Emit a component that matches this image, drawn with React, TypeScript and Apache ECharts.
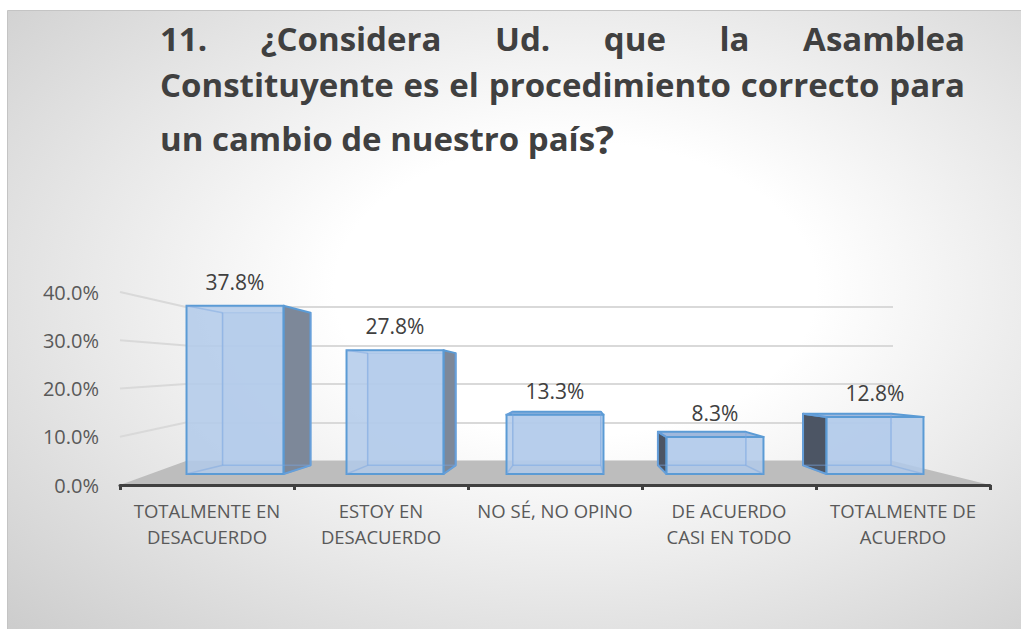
import React, { useEffect, useRef } from "react";
import * as echarts from "echarts";

const categories = [
  "TOTALMENTE EN\nDESACUERDO",
  "ESTOY EN\nDESACUERDO",
  "NO SÉ, NO OPINO",
  "DE ACUERDO\nCASI EN TODO",
  "TOTALMENTE DE\nACUERDO",
];
const values = [37.8, 27.8, 13.3, 8.3, 12.8];
const yTicks = [0, 10, 20, 30, 40];
const titleLine1 = ["11.", "¿Considera", "Ud.", "que", "la", "Asamblea"];
const titleLine2 = ["Constituyente", "es", "el", "procedimiento", "correcto", "para"];
const titleLine3 = "un cambio de nuestro país";

const W = 1021;
const H = 629;
const FONT = "'Open Sans', 'Noto Sans', sans-serif";
const G0 = { left: 120, right: 31, top: 292, bottom: 144 }; // front axis + labels
const G1 = { left: 186, right: 128, top: 307, bottom: 168 }; // back wall gridlines
const G2 = { left: 155, right: 66, top: 296, bottom: 155 }; // bar front faces
const VP = [574, 381];
const DEPTH = 0.907;
const TITLE_LEFT = 160;
const TITLE_RIGHT = 965;
const TITLE_SIZE = 33;

function renderBar(params: any, api: any) {
  const i = api.value(0);
  const v = api.value(1);
  const base = api.coord([i, 0]);
  const top = api.coord([i, v]);
  const w = api.size([1, 0])[0] * 0.606;
  const x0 = base[0] - w / 2;
  const x1 = base[0] + w / 2;
  const y0 = top[1];
  const y1 = base[1];
  const b = (p: number[]) => [VP[0] + (p[0] - VP[0]) * DEPTH, VP[1] + (p[1] - VP[1]) * DEPTH];
  const FTL = [x0, y0], FTR = [x1, y0], FBR = [x1, y1], FBL = [x0, y1];
  const BTL = b(FTL), BTR = b(FTR), BBR = b(FBR), BBL = b(FBL);
  const children: any[] = [];
  children.push({
    type: "polygon",
    shape: { points: [BTL, BTR, BBR, BBL] },
    style: { fill: "rgba(190,210,238,0.6)", stroke: "#8fb3e3", lineWidth: 1.5 },
  });
  if (x1 < VP[0]) {
    children.push({
      type: "polygon",
      shape: { points: [FTR, BTR, BBR, FBR] },
      style: { fill: "#7d8899", stroke: "#5b9bd5", lineWidth: 2, lineJoin: "round" },
    });
  } else if (x0 > VP[0]) {
    children.push({
      type: "polygon",
      shape: { points: [FTL, BTL, BBL, FBL] },
      style: { fill: "#4c5564", stroke: "#5b9bd5", lineWidth: 2, lineJoin: "round" },
    });
  }
  if (y0 > VP[1]) {
    children.push({
      type: "polygon",
      shape: { points: [FTL, FTR, BTR, BTL] },
      style: { fill: "#9fb8dc", stroke: "#5b9bd5", lineWidth: 2, lineJoin: "round" },
    });
  }
  children.push({
    type: "rect",
    shape: { x: x0, y: y0, width: x1 - x0, height: y1 - y0 },
    style: { fill: "rgba(178,202,234,0.85)", stroke: "#5b9bd5", lineWidth: 2 },
  });
  const edge = (p: number[], q: number[]) => ({
    type: "line",
    shape: { x1: p[0], y1: p[1], x2: q[0], y2: q[1] },
    style: { stroke: "rgba(120,165,225,0.45)", lineWidth: 1.5 },
  });
  children.push(edge(FTL, BTL), edge(FBL, BBL), edge(FBR, BBR), edge(BTL, BBL), edge(BBL, BBR), edge(BBR, BTR));
  children.push({
    type: "text",
    x: base[0],
    y: y0 - 24,
    style: {
      text: v.toFixed(1) + "%",
      fill: "#404040",
      fontSize: 21,
      fontFamily: FONT,
      align: "center",
      verticalAlign: "middle",
    },
  });
  return { type: "group", children };
}

function justifyWords(words: string[], y: number, ctx: CanvasRenderingContext2D | null) {
  const widths = words.map((w) => (ctx ? ctx.measureText(w).width : w.length * TITLE_SIZE * 0.55));
  const total = widths.reduce((a, c) => a + c, 0);
  const gap = (TITLE_RIGHT - TITLE_LEFT - total) / (words.length - 1);
  const out: any[] = [];
  let x = TITLE_LEFT;
  words.forEach((w, i) => {
    out.push({
      type: "text",
      z: 10,
      x,
      y,
      style: {
        text: w,
        fill: "#404040",
        fontSize: TITLE_SIZE,
        fontWeight: "bold",
        fontFamily: FONT,
        align: "left",
        verticalAlign: "middle",
      },
    });
    x += widths[i] + gap;
  });
  return out;
}

export default function App() {
  const ref = useRef<HTMLDivElement>(null);
  useEffect(() => {
    if (!ref.current) return;
    const chart = echarts.init(ref.current, null, { renderer: "svg" });
    const hiddenAxis = { show: false };
    chart.setOption({
      animation: false,
      textStyle: { fontFamily: FONT },
      grid: [
        { ...G0, containLabel: false },
        { ...G1, containLabel: false },
        { ...G2, containLabel: false },
      ],
      xAxis: [
        {
          type: "category",
          gridIndex: 0,
          data: categories,
          boundaryGap: true,
          z: 4,
          axisLine: { show: true, lineStyle: { color: "#404040", width: 3 } },
          axisTick: { show: true, length: 5, lineStyle: { color: "#404040", width: 3 } },
          axisLabel: { color: "#595959", fontSize: 18.5, lineHeight: 26, margin: 12, interval: 0, fontFamily: FONT },
          splitLine: { show: false },
        },
        { type: "category", gridIndex: 1, data: categories, ...hiddenAxis },
        { type: "category", gridIndex: 2, data: categories, ...hiddenAxis },
      ],
      yAxis: [
        {
          type: "value",
          gridIndex: 0,
          min: 0,
          max: 40,
          interval: 10,
          axisLine: { show: false },
          axisTick: { show: false },
          splitLine: { show: false },
          axisLabel: {
            color: "#595959",
            fontSize: 20,
            margin: 21,
            fontFamily: FONT,
            formatter: (v: number) => v.toFixed(1) + "%",
          },
        },
        {
          type: "value",
          gridIndex: 1,
          min: 0,
          max: 40,
          interval: 10,
          axisLine: { show: false },
          axisTick: { show: false },
          axisLabel: { show: false },
          splitLine: { show: true, lineStyle: { color: "#d9d9d9", width: 2 } },
        },
        { type: "value", gridIndex: 2, min: 0, max: 40, interval: 10, show: false, splitLine: { show: false } },
      ],
      series: [
        {
          type: "custom",
          xAxisIndex: 2,
          yAxisIndex: 2,
          z: 5,
          renderItem: renderBar,
          data: values.map((v, i) => [i, v]),
        },
      ],
    });

    const front = (v: number) => chart.convertToPixel({ gridIndex: 0 }, [0, v])[1];
    const back = (v: number) => chart.convertToPixel({ gridIndex: 1 }, [0, v])[1];

    const elements: any[] = [];
    elements.push({
      type: "rect",
      z: -100,
      silent: true,
      shape: { x: 7.5, y: 10.5, width: W - 7, height: H - 10 },
      style: {
        fill: new echarts.graphic.RadialGradient(0.56, 0.45, 0.95, [
          { offset: 0, color: "#ffffff" },
          { offset: 0.25, color: "#ffffff" },
          { offset: 1, color: "#bdbdbd" },
        ]),
        stroke: "#c4c4c4",
        lineWidth: 1,
      },
    });
    elements.push({
      type: "polygon",
      z: 1,
      silent: true,
      shape: {
        points: [
          [G0.left, front(0)],
          [W - G0.right, front(0)],
          [W - G1.right, back(0)],
          [G1.left, back(0)],
        ],
      },
      style: { fill: "#bdbdbd" },
    });
    yTicks.slice(1).forEach((t) => {
      elements.push({
        type: "line",
        z: 1,
        silent: true,
        shape: { x1: G0.left, y1: front(t), x2: G1.left, y2: back(t) },
        style: { stroke: "#d9d9d9", lineWidth: 2 },
      });
    });
    const canvas = document.createElement("canvas");
    const ctx = canvas.getContext("2d");
    if (ctx) ctx.font = `bold ${TITLE_SIZE}px ${FONT}`;
    elements.push(...justifyWords(titleLine1, 38, ctx));
    elements.push(...justifyWords(titleLine2, 84, ctx));
    elements.push({
      type: "text",
      z: 10,
      x: TITLE_LEFT,
      y: 138,
      style: {
        text: "{a|" + titleLine3 + "}{q|?}",
        fill: "#404040",
        fontSize: TITLE_SIZE,
        fontWeight: "bold",
        fontFamily: FONT,
        align: "left",
        verticalAlign: "middle",
        rich: {
          a: { fill: "#404040", fontSize: TITLE_SIZE, fontWeight: "bold", fontFamily: FONT },
          q: { fill: "#404040", fontSize: 40, fontWeight: "bold", fontFamily: FONT },
        },
      },
    });
    chart.setOption({ graphic: { elements } });
    return () => chart.dispose();
  }, []);
  return <div ref={ref} style={{ position: "absolute", left: 0, top: 0, width: W, height: H }} />;
}
